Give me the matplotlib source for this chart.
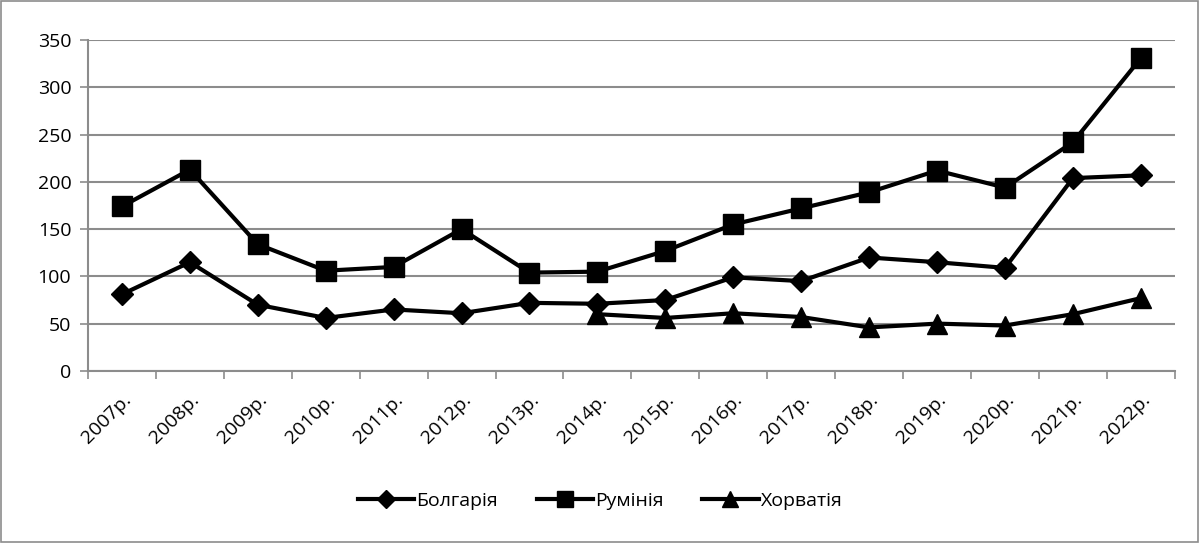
import numpy as np
import matplotlib
matplotlib.use("Agg")
from matplotlib import pyplot as plt
from matplotlib.ticker import MultipleLocator, FixedLocator

plt.rcParams['font.family'] = ['Open Sans', 'DejaVu Sans']

years = ["2007р.", "2008р.", "2009р.", "2010р.", "2011р.", "2012р.", "2013р.", "2014р.",
         "2015р.", "2016р.", "2017р.", "2018р.", "2019р.", "2020р.", "2021р.", "2022р."]
bulgaria = [81, 115, 70, 56, 65, 61, 72, 71, 75, 99, 95, 120, 115, 109, 204, 207]
romania = [174, 213, 134, 106, 110, 150, 104, 105, 127, 155, 172, 189, 212, 194, 242, 331]
croatia = [np.nan] * 7 + [60, 56, 61, 57, 46, 50, 48, 60, 77]

seriesNames = ["Болгарія", "Румінія", "Хорватія"]
seriesMarkers = ["D", "s", "^"]
seriesSizes = [11, 14, 14]

grey = "#8c8c8c"

figure, axis = plt.subplots(figsize=(12, 5.43), dpi=100)
plt.subplots_adjust(left=0.0733, right=0.979, top=0.926, bottom=0.317)

xPos = np.arange(len(years))
for values, name, marker, size in zip([bulgaria, romania, croatia], seriesNames, seriesMarkers, seriesSizes):
    axis.plot(xPos, values, color="black", linewidth=3.0, marker=marker, markersize=size,
              label=name, clip_on=False, zorder=3)

# Axes limits and ticks
axis.set_xlim(-0.5, len(years) - 0.5)
axis.set_ylim(0, 350)
axis.yaxis.set_major_locator(MultipleLocator(50))
axis.set_xticks(xPos)
axis.set_xticklabels(years, rotation=45, ha="right", rotation_mode="anchor", fontsize=14)
axis.xaxis.set_minor_locator(FixedLocator(np.arange(-0.5, len(years), 1.0)))
axis.tick_params(axis="x", which="major", length=0, pad=14)
axis.tick_params(axis="x", which="minor", length=6, color=grey, width=1.2)
axis.tick_params(axis="y", length=6, color=grey, width=1.2, labelsize=14, pad=6)

axis.grid(axis="y", color=grey, linewidth=1.5)
axis.set_axisbelow(True)
for side in ["top", "right"]:
    axis.spines[side].set_visible(False)
for side in ["left", "bottom"]:
    axis.spines[side].set_color(grey)
    axis.spines[side].set_linewidth(1.5)

legend = figure.legend(loc="center", bbox_to_anchor=(0.5, 0.077), ncol=3, frameon=False,
                       fontsize=14, handlelength=2.9, handletextpad=0.1, columnspacing=2.0,
                       markerscale=0.85)

# Outer chart border
figure.patches.append(plt.Rectangle((0.001, 0.001), 0.997, 0.997, transform=figure.transFigure,
                                    fill=False, edgecolor=grey, linewidth=1.2))

figure.savefig("out.png", dpi=100)
